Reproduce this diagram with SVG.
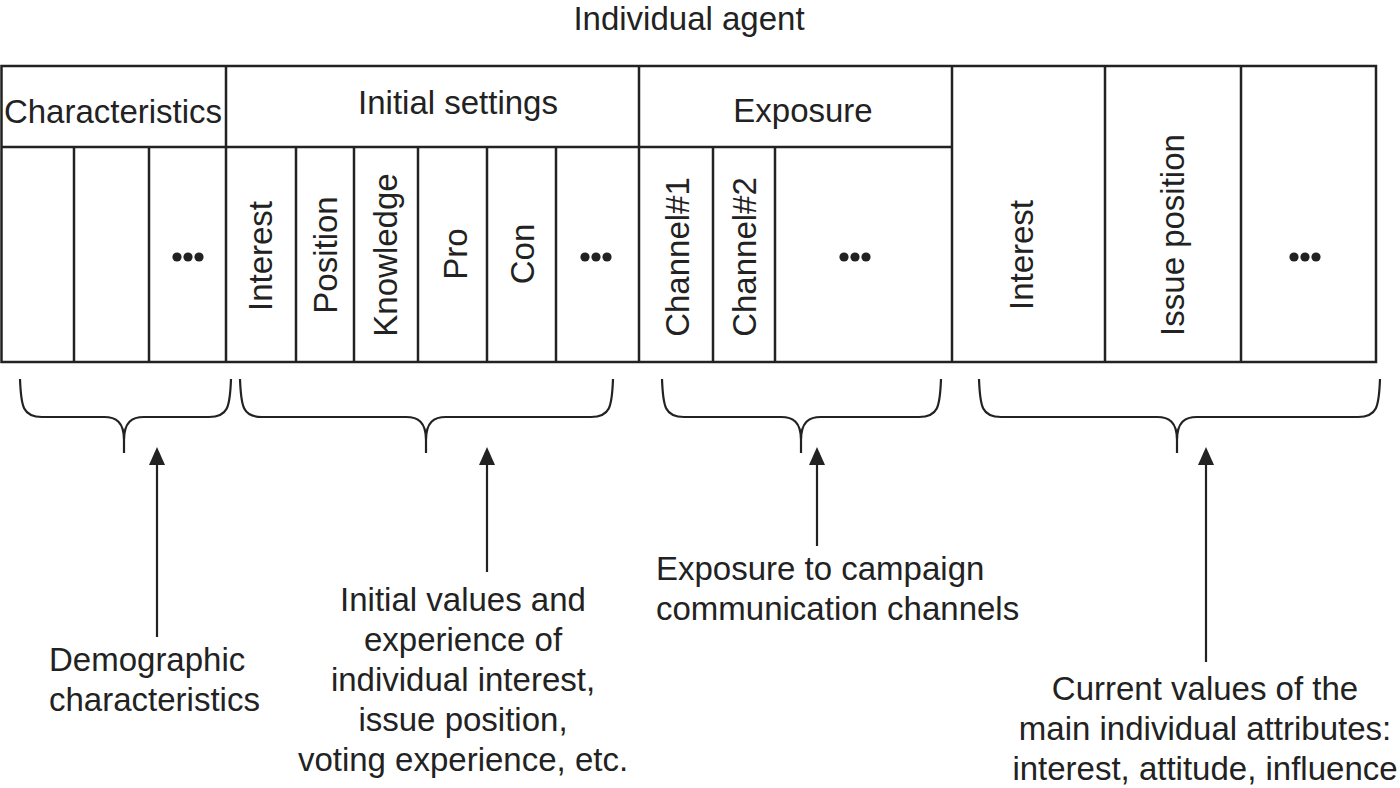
<svg xmlns="http://www.w3.org/2000/svg" width="1400" height="788" viewBox="0 0 1400 788">
<defs>
<style>
text{font-family:"Liberation Sans",Arial,Helvetica,sans-serif;font-size:33px;fill:#222}
.mid{text-anchor:middle}
.grid{stroke:#222;stroke-width:2.5;fill:none}
.brace{stroke:#222;stroke-width:2.2;fill:none}
.shaft{stroke:#222;stroke-width:2.2}
.head{fill:#222}
.dot{fill:#222}
</style>
</defs>
<rect width="1400" height="788" fill="#fff"/>

<g id="title">
<text class="mid" x="689" y="30">Individual agent</text>
</g>

<g id="agent-table">
<rect class="grid" x="1.5" y="66" width="1374.5" height="296"/>
<line class="grid" x1="1" y1="147" x2="952" y2="147"/>
<line class="grid" x1="226" y1="66" x2="226" y2="362"/>
<line class="grid" x1="639" y1="66" x2="639" y2="362"/>
<line class="grid" x1="952" y1="66" x2="952" y2="362"/>
<line class="grid" x1="1105" y1="66" x2="1105" y2="362"/>
<line class="grid" x1="1241" y1="66" x2="1241" y2="362"/>
<line class="grid" x1="74" y1="147" x2="74" y2="362"/>
<line class="grid" x1="149" y1="147" x2="149" y2="362"/>
<line class="grid" x1="296" y1="147" x2="296" y2="362"/>
<line class="grid" x1="354" y1="147" x2="354" y2="362"/>
<line class="grid" x1="418" y1="147" x2="418" y2="362"/>
<line class="grid" x1="487" y1="147" x2="487" y2="362"/>
<line class="grid" x1="556" y1="147" x2="556" y2="362"/>
<line class="grid" x1="713" y1="147" x2="713" y2="362"/>
<line class="grid" x1="775" y1="147" x2="775" y2="362"/>
</g>

<g id="characteristics">
<text class="mid" x="113" y="123">Characteristics</text>
<circle class="dot" cx="177" cy="257" r="4.6"/><circle class="dot" cx="188" cy="257" r="4.6"/><circle class="dot" cx="199" cy="257" r="4.6"/>
</g>

<g id="initial-settings">
<text class="mid" x="458" y="114">Initial settings</text>
<text class="mid" transform="translate(272,256) rotate(-90)">Interest</text>
<text class="mid" transform="translate(337,255) rotate(-90)">Position</text>
<text class="mid" transform="translate(397,255) rotate(-90)">Knowledge</text>
<text class="mid" transform="translate(467,254) rotate(-90)">Pro</text>
<text class="mid" transform="translate(534,254) rotate(-90)">Con</text>
<circle class="dot" cx="585" cy="257" r="4.6"/><circle class="dot" cx="596" cy="257" r="4.6"/><circle class="dot" cx="607" cy="257" r="4.6"/>
</g>

<g id="exposure">
<text class="mid" x="803" y="122">Exposure</text>
<text class="mid" transform="translate(689,257) rotate(-90)">Channel#1</text>
<text class="mid" transform="translate(756,257) rotate(-90)">Channel#2</text>
<circle class="dot" cx="844" cy="257" r="4.6"/><circle class="dot" cx="855" cy="257" r="4.6"/><circle class="dot" cx="866" cy="257" r="4.6"/>
</g>

<g id="current-attributes">
<text class="mid" transform="translate(1033,255) rotate(-90)">Interest</text>
<text class="mid" transform="translate(1184,235) rotate(-90)">Issue position</text>
<circle class="dot" cx="1294" cy="257" r="4.6"/><circle class="dot" cx="1305" cy="257" r="4.6"/><circle class="dot" cx="1316" cy="257" r="4.6"/>
</g>

<g id="connectors">
<path class="brace" d="M20,379 C21,407 23,417 42,417 L104,417 C116,417 124,422 124,440 L124,453 M231,379 C230,407 228,417 209,417 L144,417 C132,417 124,422 124,440"/>
<path class="brace" d="M240,379 C241,407 243,417 262,417 L406,417 C418,417 426,422 426,440 L426,453 M613,379 C612,407 610,417 591,417 L446,417 C434,417 426,422 426,440"/>
<path class="brace" d="M662,379 C663,407 665,417 684,417 L781,417 C793,417 801,422 801,440 L801,453 M941,379 C940,407 938,417 919,417 L821,417 C809,417 801,422 801,440"/>
<path class="brace" d="M979,379 C980,407 982,417 1001,417 L1157,417 C1169,417 1177,422 1177,440 L1177,453 M1380,379 C1379,407 1377,417 1358,417 L1197,417 C1185,417 1177,422 1177,440"/>
<line class="shaft" x1="157" y1="462" x2="157" y2="637"/>
<polygon class="head" points="157,447 149,465 165,465"/>
<line class="shaft" x1="487" y1="462" x2="487" y2="572"/>
<polygon class="head" points="487,447 479,465 495,465"/>
<line class="shaft" x1="817" y1="462" x2="817" y2="546"/>
<polygon class="head" points="817,447 809,465 825,465"/>
<line class="shaft" x1="1206" y1="462" x2="1206" y2="662"/>
<polygon class="head" points="1206,447 1198,465 1214,465"/>
</g>

<g id="label-demographic">
<text x="49" y="671">Demographic</text>
<text x="49" y="711">characteristics</text>
</g>

<g id="label-initial">
<text class="mid" x="463" y="611">Initial values and</text>
<text class="mid" x="463" y="651">experience of</text>
<text class="mid" x="463" y="691">individual interest,</text>
<text class="mid" x="463" y="731">issue position,</text>
<text class="mid" x="463" y="771">voting experience, etc.</text>
</g>

<g id="label-exposure">
<text x="656" y="580">Exposure to campaign</text>
<text x="656" y="620">communication channels</text>
</g>

<g id="label-current">
<text class="mid" x="1205" y="700">Current values of the</text>
<text class="mid" x="1205" y="740">main individual attributes:</text>
<text class="mid" x="1205" y="780">interest, attitude, influence</text>
</g>
</svg>
